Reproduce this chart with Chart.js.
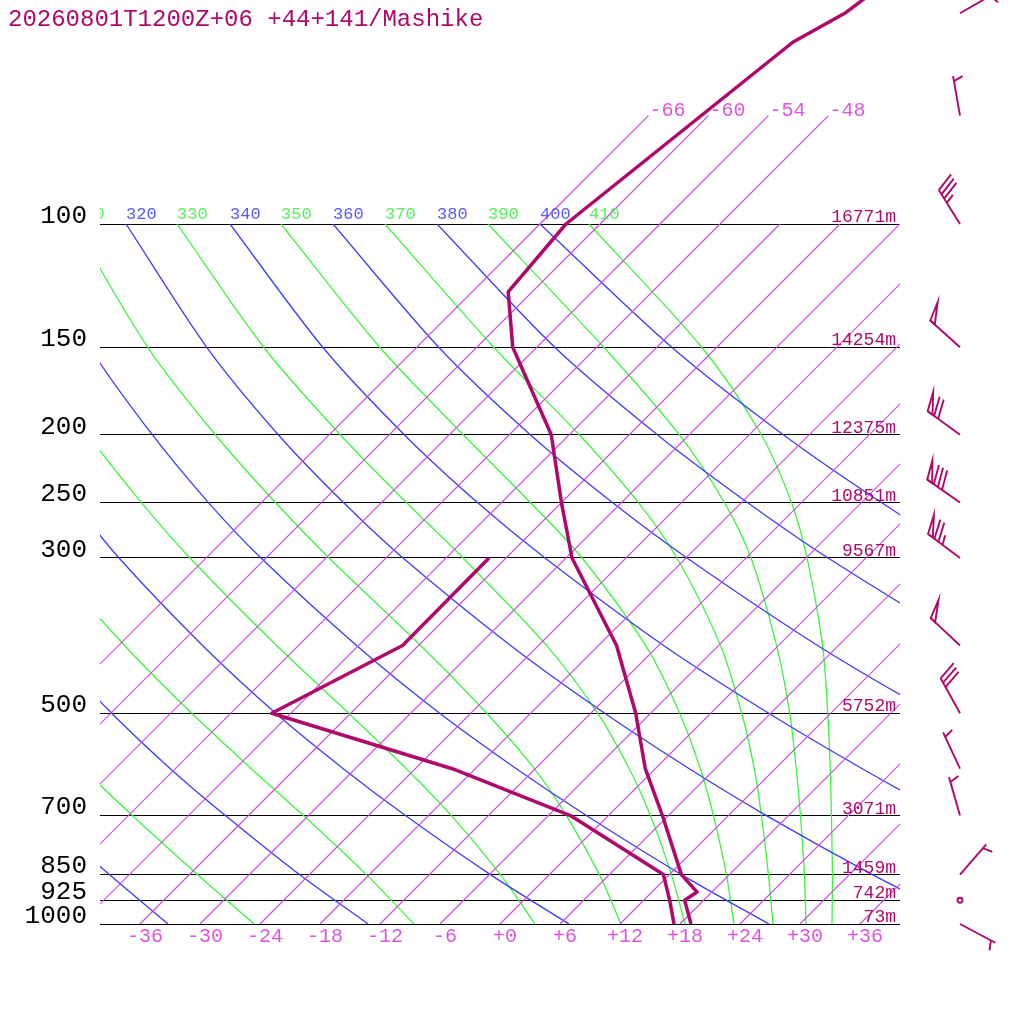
<!DOCTYPE html>
<html lang="en">
<head>
<meta charset="UTF-8">
<title>Skew-T 20260801T1200Z+06 Mashike</title>
<script src="https://cdn.jsdelivr.net/npm/chart.js@4.4.0/dist/chart.umd.min.js"></script>
<style>
  html, body { margin: 0; padding: 0; background: #ffffff; }
  #wrap { width: 1024px; height: 1024px; }
</style>
</head>
<body>
<div id="wrap"><canvas id="skewt" width="1024" height="1024"></canvas></div>
<script>
  const titleText = '20260801T1200Z+06 +44+141/Mashike';

  // pressure grid (hPa) and the heights printed on the right
  const pressureTicks = [100, 150, 200, 250, 300, 500, 700, 850, 925, 1000];
  const heightLabels = ['16771m', '14254m', '12375m', '10851m', '9567m', '5752m', '3071m', '1459m', '742m', '73m'];

  // temperature axis and isotherms (deg C)
  const tempTicks = [-36, -30, -24, -18, -12, -6, 0, 6, 12, 18, 24, 30, 36];
  const isotherms = [-66, -60, -54, -48, -42, -36, -30, -24, -18, -12, -6, 0, 6, 12, 18, 24, 30, 36];
  const isothermTop = [-66, -60, -54, -48];
  const isothermTopP = 70;

  // adiabats: temperature (deg C) at each level
  const adiabatLevels = [1000, 850, 700, 600, 500, 400, 300, 250, 200, 150, 100];
  const dryThetas = [240, 260, 280, 300, 320, 340, 360, 380, 400];
  const dryTemps = [
    [-33.2, -44.0, -56.4, -65.7, -76.3, -88.4, -103.0, -111.6, -121.6, -133.6, -148.8],
    [-13.2, -25.0, -38.3, -48.5, -59.9, -73.0, -88.8, -98.2, -109.0, -121.9, -138.5],
    [6.9, -5.9, -20.3, -31.2, -43.5, -57.6, -74.7, -84.7, -96.4, -110.3, -128.1],
    [26.9, 13.2, -2.2, -13.9, -27.1, -42.2, -60.5, -71.3, -83.7, -98.7, -117.8],
    [46.9, 32.3, 15.8, 3.4, -10.6, -26.8, -46.3, -57.8, -71.1, -87.0, -107.4],
    [66.9, 51.4, 33.9, 20.7, 5.8, -11.5, -32.1, -44.4, -58.5, -75.4, -97.0],
    [86.9, 70.5, 52.0, 38.0, 22.2, 3.9, -17.9, -30.9, -45.9, -63.8, -86.7],
    [106.9, 89.6, 70.0, 55.3, 38.6, 19.3, -3.8, -17.4, -33.2, -52.2, -76.3],
    [126.9, 108.7, 88.1, 72.5, 55.0, 34.7, 10.4, -4.0, -20.6, -40.5, -66.0]
  ];
  const moistThetas = [250, 270, 290, 310, 330, 350, 370, 390, 410];
  const moistTemps = [
    [-24.6, -35.2, -47.6, -57.2, -68.1, -80.7, -95.9, -104.9, -115.3, -127.8, -143.7],
    [-8.6, -18.3, -30.5, -40.4, -51.9, -65.4, -81.8, -91.5, -102.7, -116.1, -133.3],
    [3.5, -4.9, -15.7, -24.9, -36.2, -50.2, -67.6, -78.0, -90.1, -104.5, -122.9],
    [12.1, 5.0, -4.2, -12.1, -22.4, -35.8, -53.7, -64.6, -77.4, -92.9, -112.6],
    [18.5, 12.2, 4.2, -2.6, -11.3, -23.2, -40.3, -51.5, -64.9, -81.3, -102.3],
    [23.4, 17.7, 10.5, 4.5, -3.1, -13.3, -28.4, -39.1, -52.6, -69.7, -91.9],
    [27.3, 21.9, 15.3, 9.9, 3.1, -5.8, -18.9, -28.3, -41.0, -58.3, -81.5],
    [30.6, 25.5, 19.2, 14.1, 7.9, -0.2, -11.5, -19.7, -31.0, -47.3, -71.2],
    [33.2, 28.3, 22.3, 17.5, 11.7, 4.4, -5.9, -13.0, -22.8, -37.5, -61.1]
  ];

  // sounding
  const soundP = [1000, 925, 900, 850, 700, 600, 500, 400, 300, 250, 200, 150, 125, 100, 55, 50, 45];
  const soundT = [19.1, 16.1, 16.5, 13.2, 5.4, -1.0, -7.5, -16.2, -29.4, -36.0, -43.8, -56.4, -62.4, -63.4, -58.9, -56.6, -55.5];
  const dewP = [1000, 925, 850, 700, 600, 500, 400, 300];
  const dewT = [17.4, 14.6, 11.4, -3.8, -20.3, -43.9, -37.6, -37.7];

  // wind (direction deg, speed kt)
  const windP = [50, 70, 100, 150, 200, 250, 300, 400, 500, 600, 700, 850, 925, 1000];
  const windDir = [60, 350, 328, 312, 306, 305, 307, 313, 331, 335, 344, 41, 0, 118];
  const windSpd = [5, 5, 35, 50, 70, 80, 75, 50, 30, 5, 5, 5, 0, 5];
  const barbX = 46;

  const FONT = '"Liberation Mono", "DejaVu Sans Mono", monospace';
  const MAGENTA = '#b0086a';
  const ISO = 'rgb(206, 72, 226)';
  const DRY = 'rgb(60, 60, 255)';
  const MOIST = 'rgb(60, 244, 60)';

  // skew: isotherms lean 45 degrees
  function skewX(t, p) {
    return t + 70 * Math.log10(1000 / p);
  }
  function curve(ps, ts) {
    return ps.map((p, i) => ({ x: skewX(ts[i], p), y: p }));
  }

  const datasets = [];
  datasets.push({ data: curve(soundP, soundT), borderColor: MAGENTA, borderWidth: 3.5, clip: false, tension: 0 });
  datasets.push({ data: curve(dewP, dewT), borderColor: MAGENTA, borderWidth: 3.5, clip: false, tension: 0 });

  isothermTop.forEach(t => {
    datasets.push({
      data: [{ x: skewX(t, isothermTopP), y: isothermTopP }, { x: skewX(t, 100), y: 100 }],
      borderColor: ISO, backgroundColor: ISO, borderWidth: 1.2, clip: false, tension: 0
    });
  });
  isotherms.forEach(t => {
    datasets.push({
      data: [{ x: skewX(t, 100), y: 100 }, { x: t, y: 1000 }],
      borderColor: ISO, backgroundColor: ISO, borderWidth: 1.2, tension: 0
    });
  });
  dryTemps.forEach(ts => {
    datasets.push({ data: curve(adiabatLevels, ts), borderColor: DRY, borderWidth: 1.3, tension: 0.3 });
  });
  moistTemps.forEach(ts => {
    datasets.push({ data: curve(adiabatLevels, ts), borderColor: MOIST, borderWidth: 1.3, tension: 0.3 });
  });

  function drawBarb(ctx, px, py, dir, spd) {
    if (spd === 0) {
      ctx.beginPath();
      ctx.arc(px, py, 2.5, 0, Math.PI * 2);
      ctx.stroke();
      return;
    }
    const a = dir * Math.PI / 180;
    const sx = Math.sin(a), sy = -Math.cos(a);
    const r = 70 * Math.PI / 180;
    const bx = sx * Math.cos(r) - sy * Math.sin(r);
    const by = sx * Math.sin(r) + sy * Math.cos(r);
    const ex = px + 40 * sx, ey = py + 40 * sy;
    ctx.beginPath();
    ctx.moveTo(px, py);
    ctx.lineTo(ex, ey);
    ctx.stroke();
    let rest = spd, pos = 0;
    while (rest >= 50) {
      const ax = ex - pos * sx, ay = ey - pos * sy;
      ctx.beginPath();
      ctx.moveTo(ax, ay);
      ctx.lineTo(ax + 20 * bx, ay + 20 * by);
      ctx.lineTo(ax - 6 * sx, ay - 6 * sy);
      ctx.closePath();
      ctx.stroke();
      pos += 8;
      rest -= 50;
    }
    while (rest >= 10) {
      const ax = ex - pos * sx, ay = ey - pos * sy;
      ctx.beginPath();
      ctx.moveTo(ax, ay);
      ctx.lineTo(ax + 20 * bx, ay + 20 * by);
      ctx.stroke();
      pos += 5;
      rest -= 10;
    }
    if (rest >= 5) {
      if (pos === 0) pos = 5;
      const ax = ex - pos * sx, ay = ey - pos * sy;
      ctx.beginPath();
      ctx.moveTo(ax, ay);
      ctx.lineTo(ax + 10 * bx, ay + 10 * by);
      ctx.stroke();
    }
  }

  const skewText = {
    id: 'skewText',
    afterDatasetsDraw(chart) {
      const { ctx, chartArea } = chart;
      const x = chart.scales.x, y = chart.scales.y;
      ctx.save();

      // heights on the right
      ctx.font = '18px ' + FONT;
      ctx.fillStyle = MAGENTA;
      ctx.textAlign = 'right';
      ctx.textBaseline = 'alphabetic';
      pressureTicks.forEach((p, i) => {
        ctx.fillText(heightLabels[i], chartArea.right - 4, y.getPixelForValue(p) - 2);
      });

      // isotherm labels at the top
      ctx.font = '20px ' + FONT;
      ctx.fillStyle = '#dd55dd';
      ctx.textAlign = 'left';
      isothermTop.forEach(t => {
        ctx.fillText(String(t), x.getPixelForValue(skewX(t, isothermTopP)) + 1, y.getPixelForValue(isothermTopP));
      });

      // adiabat labels along 100 hPa
      ctx.save();
      ctx.beginPath();
      ctx.rect(chartArea.left, 0, chart.width - chartArea.left, chartArea.top);
      ctx.clip();
      ctx.font = '17px ' + FONT;
      const yTop = y.getPixelForValue(100) - 5;
      const last = adiabatLevels.length - 1;
      ctx.fillStyle = '#5858ff';
      dryThetas.forEach((th, i) => {
        ctx.fillText(String(th), x.getPixelForValue(skewX(dryTemps[i][last], 100)), yTop);
      });
      ctx.fillStyle = '#58f058';
      moistThetas.forEach((th, i) => {
        ctx.fillText(String(th), x.getPixelForValue(skewX(moistTemps[i][last], 100)), yTop);
      });
      ctx.restore();

      // wind barbs
      ctx.strokeStyle = MAGENTA;
      ctx.lineWidth = 1.9;
      ctx.lineJoin = 'miter';
      windP.forEach((p, i) => {
        drawBarb(ctx, x.getPixelForValue(barbX), y.getPixelForValue(p), windDir[i], windSpd[i]);
      });

      ctx.restore();
    },
    afterDraw(chart) {
      const ctx = chart.ctx;
      ctx.save();
      ctx.font = '24px ' + FONT;
      ctx.fillStyle = MAGENTA;
      ctx.textAlign = 'left';
      ctx.textBaseline = 'alphabetic';
      ctx.fillText(titleText, 8, 26);
      ctx.restore();
    }
  };

  new Chart(document.getElementById('skewt'), {
    type: 'line',
    data: { datasets },
    options: {
      responsive: false,
      devicePixelRatio: 1,
      animation: false,
      events: [],
      layout: { padding: { top: 224, right: 124, left: 0, bottom: 0 } },
      elements: {
        point: { radius: 0 },
        line: { capBezierPoints: false, borderJoinStyle: 'round' }
      },
      plugins: { legend: { display: false }, tooltip: { enabled: false } },
      scales: {
        x: {
          type: 'linear',
          min: -40,
          max: 40,
          grid: { display: false },
          border: { display: false },
          afterBuildTicks: s => { s.ticks = tempTicks.map(v => ({ value: v })); },
          afterFit: s => { s.height = 100; },
          ticks: {
            autoSkip: false,
            maxRotation: 0,
            padding: -7,
            labelOffset: 5,
            color: '#dd55dd',
            font: { family: FONT, size: 20 },
            callback: v => (v >= 0 ? '+' : '') + v
          }
        },
        y: {
          type: 'logarithmic',
          position: 'left',
          reverse: true,
          min: 100,
          max: 1000,
          grid: { color: '#000000', lineWidth: 1, drawTicks: false },
          border: { display: false },
          afterBuildTicks: s => { s.ticks = pressureTicks.map(v => ({ value: v })); },
          afterFit: s => { s.width = 100; },
          ticks: {
            autoSkip: false,
            padding: 13,
            labelOffset: -8,
            color: '#000000',
            font: { family: FONT, size: 26 },
            callback: v => String(v)
          }
        }
      }
    },
    plugins: [skewText]
  });
</script>
</body>
</html>
